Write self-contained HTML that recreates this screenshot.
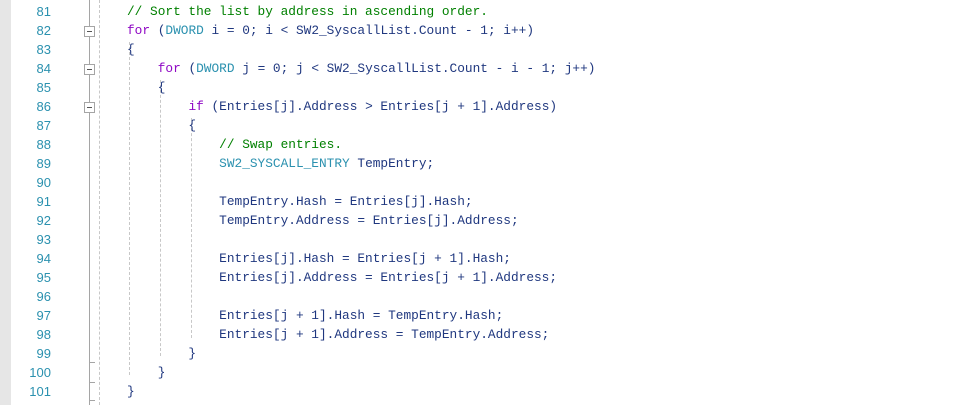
<!DOCTYPE html>
<html><head><meta charset="utf-8"><style>
html,body{margin:0;padding:0;background:#fff;width:957px;height:405px;overflow:hidden;position:relative}
.g{position:absolute;left:0;top:0;width:11px;height:405px;background:#e6e6e6}
.n{position:absolute;left:20px;width:31px;text-align:right;font:13px "Liberation Sans",sans-serif;color:#2b91af}
.c{position:absolute;left:127px;font:12.8px "Liberation Mono",monospace;color:#1f377f;white-space:pre}
.cm{color:#008000}.k{color:#8f08c4}.t{color:#2b91af}.b{color:#1f377f}
.fl{position:absolute;left:89px;top:0;width:1px;height:405px;background:#a5a5a5}
.bx{position:absolute;left:84px;width:9px;height:9px;border:1px solid #a5a5a5;background:#fff}
.bx:after{content:"";position:absolute;left:2px;top:4px;width:5px;height:1px;background:#555}
.tk{position:absolute;left:89px;width:6px;height:1px;background:#a5a5a5}
.d{position:absolute;width:0;border-left:1px dashed #c8c8c8}
</style></head><body>
<div class="g"></div>
<div class="fl"></div>
<div class="d" style="left:99px;top:0;height:405px"></div>
<div class="d" style="left:129px;top:42px;height:333px"></div>
<div class="d" style="left:160px;top:80px;height:276px"></div>
<div class="d" style="left:191px;top:118px;height:220px"></div>
<div class="bx" style="top:26px"></div>
<div class="bx" style="top:64px"></div>
<div class="bx" style="top:102px"></div>
<div class="tk" style="top:362px"></div>
<div class="tk" style="top:382px"></div>
<div class="tk" style="top:400px"></div>
<div class="n" style="top:4px">81</div><div class="n" style="top:23px">82</div><div class="n" style="top:42px">83</div><div class="n" style="top:61px">84</div><div class="n" style="top:80px">85</div><div class="n" style="top:99px">86</div><div class="n" style="top:118px">87</div><div class="n" style="top:137px">88</div><div class="n" style="top:156px">89</div><div class="n" style="top:175px">90</div><div class="n" style="top:194px">91</div><div class="n" style="top:213px">92</div><div class="n" style="top:232px">93</div><div class="n" style="top:251px">94</div><div class="n" style="top:270px">95</div><div class="n" style="top:289px">96</div><div class="n" style="top:308px">97</div><div class="n" style="top:327px">98</div><div class="n" style="top:346px">99</div><div class="n" style="top:365px">100</div><div class="n" style="top:384px">101</div>
<div class="c" style="top:4px"><span class="cm">// Sort the list by address in ascending order.</span></div>
<div class="c" style="top:23px"><span class="k">for</span> (<span class="t">DWORD</span> i = 0; i &lt; SW2_SyscallList.Count - 1; i++)</div>
<div class="c" style="top:42px">{</div>
<div class="c" style="top:61px">    <span class="k">for</span> (<span class="t">DWORD</span> j = 0; j &lt; SW2_SyscallList.Count - i - 1; j++)</div>
<div class="c" style="top:80px">    {</div>
<div class="c" style="top:99px">        <span class="k">if</span> (Entries[j].Address &gt; Entries[j + 1].Address)</div>
<div class="c" style="top:118px">        {</div>
<div class="c" style="top:137px">            <span class="cm">// Swap entries.</span></div>
<div class="c" style="top:156px">            <span class="t">SW2_SYSCALL_ENTRY</span> TempEntry;</div>
<div class="c" style="top:194px">            TempEntry.Hash = Entries[j].Hash;</div>
<div class="c" style="top:213px">            TempEntry.Address = Entries[j].Address;</div>
<div class="c" style="top:251px">            Entries[j].Hash = Entries[j + 1].Hash;</div>
<div class="c" style="top:270px">            Entries[j].Address = Entries[j + 1].Address;</div>
<div class="c" style="top:308px">            Entries[j + 1].Hash = TempEntry.Hash;</div>
<div class="c" style="top:327px">            Entries[j + 1].Address = TempEntry.Address;</div>
<div class="c" style="top:346px">        }</div>
<div class="c" style="top:365px">    }</div>
<div class="c" style="top:384px">}</div>
</body></html>
